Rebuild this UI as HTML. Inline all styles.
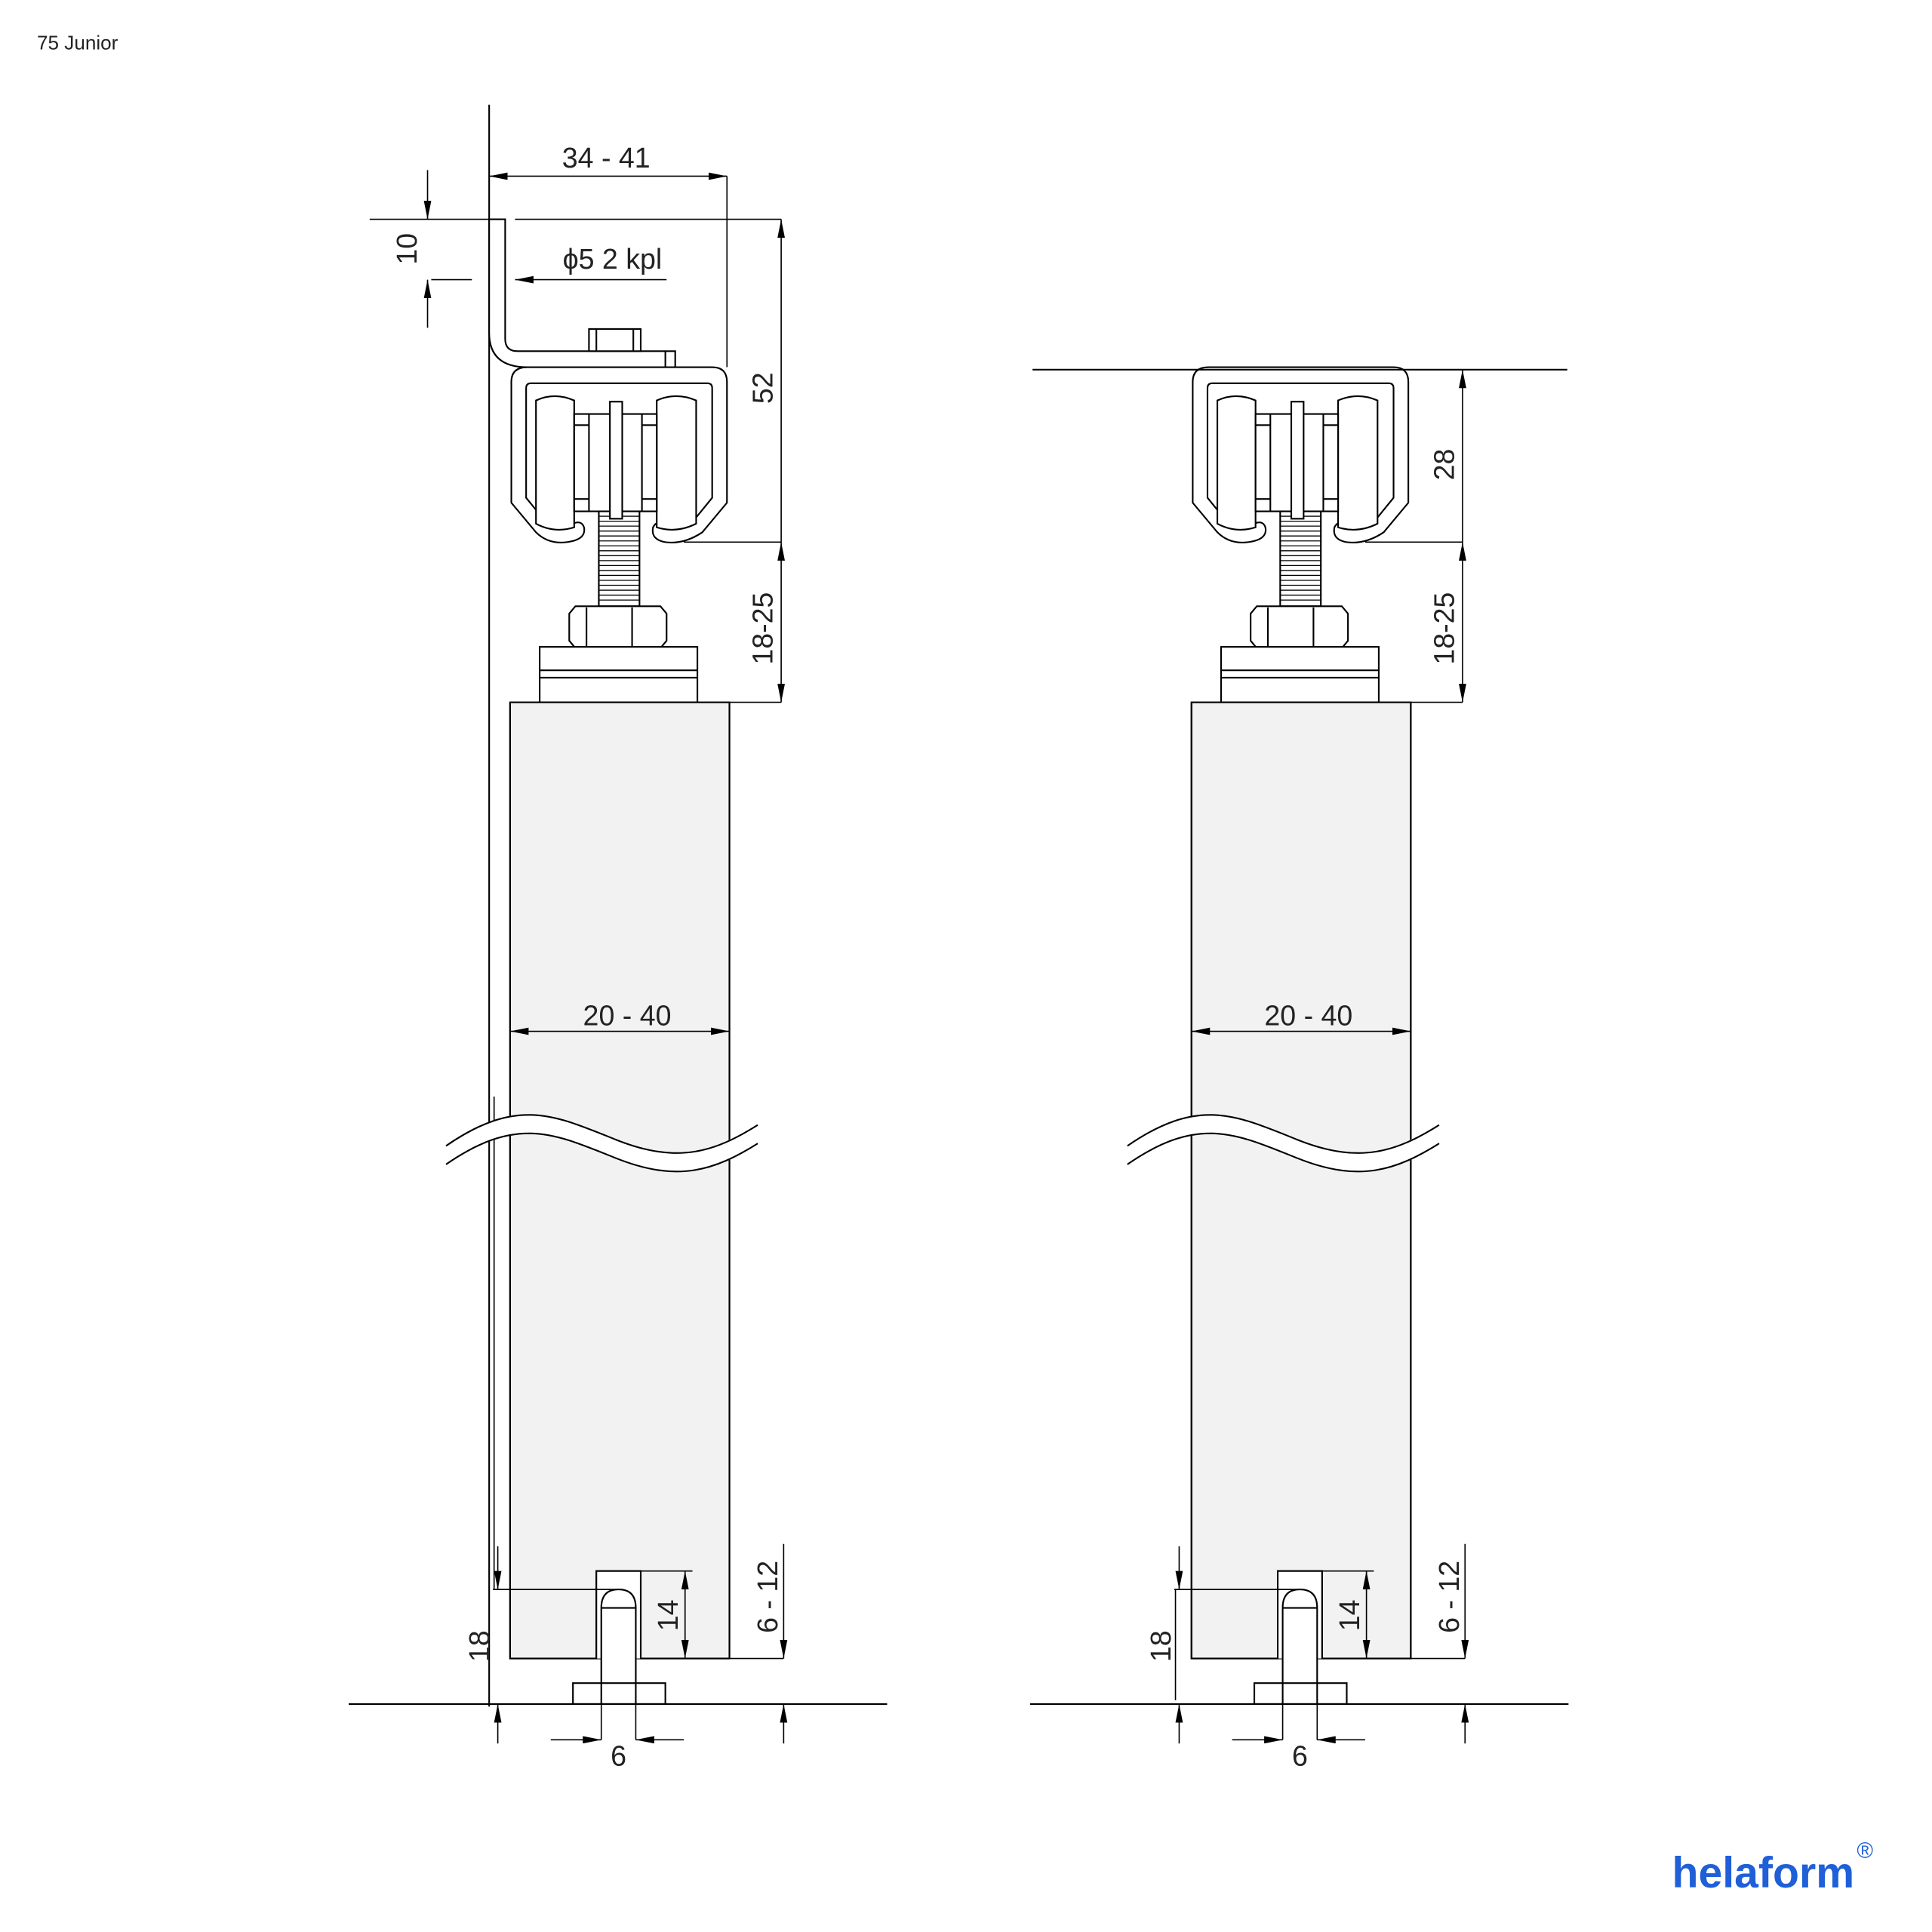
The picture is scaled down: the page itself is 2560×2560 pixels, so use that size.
<!DOCTYPE html>
<html><head><meta charset="utf-8"><style>
html,body{margin:0;padding:0;background:#fff}
svg{display:block}
text{font-family:"Liberation Sans",sans-serif;fill:#222}
</style></head><body>
<svg width="2560" height="2560" viewBox="0 0 1568 1568" xmlns="http://www.w3.org/2000/svg">
<defs>
<marker id="a" viewBox="0 0 15 6" refX="15" refY="3" markerWidth="15" markerHeight="6" markerUnits="userSpaceOnUse" orient="auto-start-reverse"><path d="M0,0 L15,3 L0,6 Z" fill="#000"/></marker>
<g id="hw" fill="none" stroke="#000" stroke-width="1.3">
<path d="M428,298 H578 Q590,298 590,310 V408 L570,432 Q555,442 540,440 Q528,438 530,428 Q533,422 540,425 Q555,430 565,420 L578,404 V315 Q578,311 574,311 H431 Q427,311 427,315 V404 L440,420 Q450,430 465,425 Q472,422 474,428 Q476,438 460,440 Q445,442 435,432 L415,408 V310 Q415,298 428,298 Z" fill="#fff"/>
<path d="M435,325 Q450,318 466,325 V428 Q450,433 435,425 Z" fill="#fff"/>
<path d="M533,325 Q549,318 565,325 V425 Q549,433 533,428 Z" fill="#fff"/>
<rect x="466" y="336" width="67" height="79" fill="#fff"/>
<line x1="478" y1="336" x2="478" y2="415"/><line x1="521" y1="336" x2="521" y2="415"/>
<line x1="466" y1="345" x2="478" y2="345"/><line x1="466" y1="405" x2="478" y2="405"/>
<line x1="521" y1="345" x2="533" y2="345"/><line x1="521" y1="405" x2="533" y2="405"/>
<rect x="486" y="415" width="33" height="77" fill="#fff"/>
<path d="M486,419H519M486,423H519M486,427H519M486,431H519M486,435H519M486,439H519M486,443H519M486,447H519M486,451H519M486,455H519M486,459H519M486,463H519M486,467H519M486,471H519M486,475H519M486,479H519M486,483H519M486,487H519" stroke-width="0.8"/>
<rect x="495" y="326" width="10" height="95" fill="#fff"/>
<path d="M467,492 H536 L541,498 V520 L536,526 H467 L462,520 V498 Z" fill="#fff"/>
<line x1="476" y1="493" x2="476" y2="525"/><line x1="513" y1="493" x2="513" y2="525"/>
<rect x="438" y="525" width="128" height="45" fill="#fff"/>
<line x1="438" y1="544" x2="566" y2="544"/><line x1="438" y1="550" x2="566" y2="550"/>
<rect x="414" y="570" width="178" height="776" fill="#f2f2f2"/>
<path d="M414,570 V1346 H484 V1275 H520 V1346 H592 M592,570 V1346"/>
<rect x="484" y="1275" width="36" height="71" fill="#fff" stroke="none"/>
<path d="M484,1346 V1275 H520 V1346"/>
<path d="M488,1383 V1305 Q488,1290 502,1290 Q516,1290 516,1305 V1383" fill="#fff"/>
<line x1="488" y1="1305" x2="516" y2="1305"/>
<rect x="465" y="1366" width="75" height="17" fill="#fff"/>
<line x1="488" y1="1366" x2="488" y2="1383"/><line x1="516" y1="1366" x2="516" y2="1383"/>
<path d="M362,937.5 C420,897.5 450,912.5 500,932.5 C550,952.5 580,942.5 615,920.5" stroke="#fff" stroke-width="15"/>
<path d="M362,930 C420,890 450,905 500,925 C550,945 580,935 615,913 M362,945 C420,905 450,920 500,940 C550,960 580,950 615,928" stroke="#000" stroke-width="1.3"/>
<g stroke-width="1">
<line x1="414" y1="837" x2="592" y2="837" marker-start="url(#a)" marker-end="url(#a)"/>
<line x1="520" y1="1275" x2="562" y2="1275"/>
<line x1="556" y1="1275" x2="556" y2="1346" marker-start="url(#a)" marker-end="url(#a)"/>
<line x1="520" y1="1346" x2="636" y2="1346"/>
<line x1="636" y1="1253" x2="636" y2="1346" marker-end="url(#a)"/>
<line x1="636" y1="1415" x2="636" y2="1383" marker-end="url(#a)"/>
<line x1="488" y1="1383" x2="488" y2="1412"/><line x1="516" y1="1383" x2="516" y2="1412"/>
<line x1="447" y1="1412" x2="488" y2="1412" marker-end="url(#a)"/>
<line x1="555" y1="1412" x2="516" y2="1412" marker-end="url(#a)"/>
<line x1="634" y1="570" x2="634" y2="440" marker-start="url(#a)" marker-end="url(#a)"/>
<line x1="555" y1="440" x2="634" y2="440"/>
<line x1="592" y1="570" x2="634" y2="570"/>
</g>
</g>
</defs>

<text x="30" y="40" font-size="16">75 Junior</text>

<!-- LEFT -->
<g fill="none" stroke="#000" stroke-width="1.3">
<line x1="397" y1="85" x2="397" y2="1385"/>
<line x1="401" y1="890" x2="401" y2="1290" stroke-width="1"/>
<path d="M397,178 H410 V275 Q410,285 420,285 H548 V298 H428 Q397,298 397,270 Z" fill="#fff"/>
<rect x="478" y="267" width="42" height="18" fill="#fff"/>
<line x1="484" y1="267" x2="484" y2="285"/><line x1="514" y1="267" x2="514" y2="285"/>
<line x1="540" y1="285" x2="540" y2="298"/>
</g>
<use href="#hw"/>
<g fill="none" stroke="#000" stroke-width="1">
<line x1="283" y1="1383" x2="720" y2="1383" stroke-width="1.3"/>
<line x1="397" y1="143" x2="590" y2="143" marker-start="url(#a)" marker-end="url(#a)"/>
<line x1="590" y1="143" x2="590" y2="298"/>
<line x1="418" y1="178" x2="634" y2="178"/>
<line x1="634" y1="178" x2="634" y2="440" marker-start="url(#a)"/>
<line x1="300" y1="178" x2="397" y2="178"/>
<line x1="350" y1="227" x2="383" y2="227"/>
<line x1="347" y1="138" x2="347" y2="178" marker-end="url(#a)"/>
<line x1="347" y1="266" x2="347" y2="227" marker-end="url(#a)"/>
<line x1="541" y1="227" x2="418" y2="227" marker-end="url(#a)"/>
<line x1="400" y1="1290" x2="500" y2="1290"/>
<line x1="404" y1="1255" x2="404" y2="1290" marker-end="url(#a)"/>
<line x1="404" y1="1415" x2="404" y2="1383" marker-end="url(#a)"/>
</g>
<g font-size="23">
<text x="492" y="136" text-anchor="middle">34 - 41</text>
<text x="497" y="218" text-anchor="middle">ϕ5 2 kpl</text>
<text transform="translate(338,202) rotate(-90)" text-anchor="middle">10</text>
<text transform="translate(627,315) rotate(-90)" text-anchor="middle">52</text>
<text transform="translate(627,510) rotate(-90)" text-anchor="middle">18-25</text>
<text x="509" y="832" text-anchor="middle">20 - 40</text>
<text transform="translate(550,1311) rotate(-90)" text-anchor="middle">14</text>
<text transform="translate(631,1296) rotate(-90)" text-anchor="middle">6 - 12</text>
<text transform="translate(397,1336) rotate(-90)" text-anchor="middle">18</text>
<text x="502" y="1433" text-anchor="middle">6</text>
</g>

<!-- RIGHT -->
<use href="#hw" transform="translate(553,0)"/>
<g fill="none" stroke="#000" stroke-width="1">
<line x1="838" y1="300" x2="1272" y2="300" stroke-width="1.3"/>
<line x1="836" y1="1383" x2="1273" y2="1383" stroke-width="1.3"/>
<line x1="1143" y1="300" x2="1190" y2="300"/>
<line x1="1187" y1="300" x2="1187" y2="440" marker-start="url(#a)"/>
<line x1="953" y1="1290" x2="1053" y2="1290"/>
<line x1="957" y1="1255" x2="957" y2="1290" marker-end="url(#a)"/>
<line x1="957" y1="1415" x2="957" y2="1383" marker-end="url(#a)"/>
<line x1="954" y1="1290" x2="954" y2="1380"/>
</g>
<g font-size="23">
<text transform="translate(1180,377) rotate(-90)" text-anchor="middle">28</text>
<text transform="translate(1180,510) rotate(-90)" text-anchor="middle">18-25</text>
<text x="1062" y="832" text-anchor="middle">20 - 40</text>
<text transform="translate(1103,1311) rotate(-90)" text-anchor="middle">14</text>
<text transform="translate(1184,1296) rotate(-90)" text-anchor="middle">6 - 12</text>
<text transform="translate(950,1336) rotate(-90)" text-anchor="middle">18</text>
<text x="1055" y="1433" text-anchor="middle">6</text>
</g>

<text x="1357" y="1532" font-size="35" font-weight="bold" textLength="148" lengthAdjust="spacingAndGlyphs" style="fill:#1f5fd8">helaform</text>
<text x="1507" y="1508" font-size="18" style="fill:#1f5fd8">®</text>
</svg>
</body></html>
